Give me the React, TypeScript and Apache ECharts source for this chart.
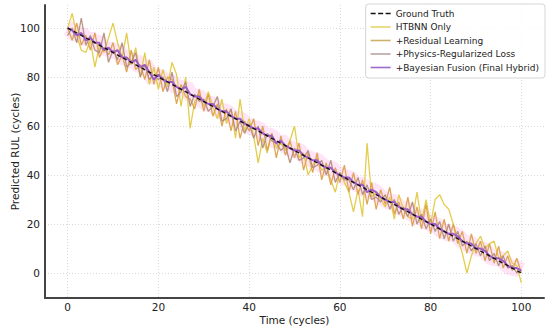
import React, { useEffect, useRef } from "react";
import * as echarts from "echarts";

const time: number[] = Array.from({ length: 101 }, (_, i) => i);

const groundTruth: number[][] = [
  [0, 100],
  [100, 0],
];

const htbnnOnly: number[] = [
  100, 106, 97, 91, 90, 95, 84, 93, 90, 96,
  102, 94, 88, 98, 85, 92, 80, 90, 77, 84,
  75, 83, 76, 86, 81, 68, 80, 59, 70, 73,
  68, 74, 68, 63, 71, 61, 67, 55, 71, 58,
  63, 56, 45, 55, 49, 57, 51, 53, 50, 54,
  60, 47, 49, 40, 44, 47, 42, 43, 38, 33,
  41, 37, 33, 25, 34, 23, 53, 31, 33, 30,
  27, 31, 22, 32, 26, 23, 22, 33, 21, 30,
  20, 30, 32, 28, 26, 20, 14, 8, 0, 7,
  12, 15, 10, 12, 13, 6, 7, 9, 4, 3, -4,
];

const residualLearning: number[] = [
  100, 95, 102, 93, 97, 91, 98, 88, 92, 89,
  94, 85, 89, 82, 91, 83, 85, 79, 87, 77,
  84, 74, 80, 79, 69, 77, 72, 71, 67, 75,
  66, 73, 64, 69, 60, 67, 58, 66, 55, 62,
  58, 63, 52, 60, 50, 57, 47, 56, 48, 54,
  47, 53, 42, 49, 41, 49, 38, 45, 36, 43,
  37, 44, 33, 41, 32, 38, 28, 37, 26, 34,
  28, 35, 24, 29, 22, 31, 19, 27, 18, 28,
  16, 25, 14, 22, 13, 20, 12, 17, 8, 16,
  8, 13, 5, 12, 4, 11, 2, 7, 1, 6, 0,
];

const physicsRegularized: number[] = [
  97, 100, 94, 104, 93, 97, 91, 90, 98, 86,
  91, 87, 94, 84, 86, 90, 80, 85, 79, 81,
  79, 80, 74, 82, 72, 74, 78, 68, 73, 70,
  71, 66, 68, 72, 62, 63, 67, 58, 62, 57,
  61, 55, 60, 51, 57, 54, 53, 50, 52, 45,
  51, 46, 47, 50, 43, 44, 46, 40, 46, 37,
  41, 38, 38, 34, 39, 32, 36, 30, 31, 29,
  32, 26, 30, 24, 27, 23, 29, 20, 24, 18,
  22, 17, 21, 14, 20, 13, 17, 11, 13, 9,
  12, 7, 11, 5, 8, 3, 7, 2, 3, 0, 1,
];

const bayesianFusion: number[] = [
  100, 99, 97, 98, 95, 96, 94, 94, 91, 92,
  90, 91, 88, 88, 86, 87, 84, 85, 82, 79,
  81, 79, 78, 78, 76, 75, 76, 73, 72, 72,
  70, 69, 69, 67, 66, 66, 64, 63, 63, 61,
  60, 59, 59, 57, 56, 56, 53, 54, 52, 51,
  50, 50, 48, 47, 46, 46, 44, 43, 43, 41,
  40, 39, 39, 37, 36, 36, 33, 34, 33, 31,
  30, 29, 29, 27, 26, 26, 24, 23, 23, 21,
  20, 20, 18, 17, 16, 16, 15, 13, 12, 12,
  10, 10, 9, 7, 6, 6, 5, 3, 2, 2, 1,
];

const xTicks = [0, 20, 40, 60, 80, 100];
const yTicks = [0, 20, 40, 60, 80, 100];

const pair = (ys: number[]) => ys.map((v, i) => [time[i], v]);

const solidIcon = "path://M0,0H20V1.6H0Z";
const dashedIcon = "path://M0,0H5V1.6H0Z M7.5,0H12.5V1.6H7.5Z M15,0H20V1.6H15Z";

export default function App() {
  const ref = useRef<HTMLDivElement>(null);
  useEffect(() => {
    if (!ref.current) return;
    const chart = echarts.init(ref.current, undefined, { renderer: "svg" });
    const font = "DejaVu Sans";
    chart.setOption({
      animation: false,
      backgroundColor: "#ffffff",
      textStyle: { fontFamily: font },
      grid: {
        left: 45,
        right: 6,
        top: 5,
        bottom: 32,
        containLabel: false,
        outerBoundsMode: "none",
      },
      legend: {
        orient: "vertical",
        right: 5,
        top: 4,
        data: [
          { name: "Ground Truth", icon: dashedIcon, itemStyle: { color: "#111" } },
          { name: "HTBNN Only", icon: solidIcon, itemStyle: { color: "#e6d66a" } },
          { name: "+Residual Learning", icon: solidIcon, itemStyle: { color: "#cdb36a" } },
          { name: "+Physics-Regularized Loss", icon: solidIcon, itemStyle: { color: "#b8a4a2" } },
          { name: "+Bayesian Fusion (Final Hybrid)", icon: solidIcon, itemStyle: { color: "#9a6ccc" } },
        ],
        itemWidth: 20,
        itemHeight: 10,
        itemGap: 4.5,
        padding: [5, 6, 6, 5],
        borderColor: "#d6d6d6",
        borderWidth: 1,
        borderRadius: 3,
        backgroundColor: "rgba(255,255,255,0.85)",
        textStyle: { fontFamily: font, fontSize: 9, color: "#222" },
      },
      xAxis: {
        type: "value",
        min: -5,
        max: 105,
        splitNumber: 5,
        name: "Time (cycles)",
        nameLocation: "middle",
        nameGap: 16,
        nameMoveOverlap: false,
        nameTextStyle: { fontFamily: font, fontSize: 10.5, color: "#222" },
        axisLine: { show: true, onZero: false, lineStyle: { color: "#444", width: 2 } },
        axisTick: { show: false },
        axisLabel: {
          margin: 3,
          fontFamily: font,
          fontSize: 10.5,
          color: "#222",
          formatter: (v: number) => (xTicks.includes(v) ? String(v) : ""),
        },
        splitLine: {
          show: true,
          showMinLine: false,
          showMaxLine: false,
          lineStyle: { color: "#d0d0d0", type: [1, 2], width: 0.8 },
        },
      },
      yAxis: {
        type: "value",
        min: -10.2,
        max: 109.4,
        splitNumber: 5,
        name: "Predicted RUL (cycles)",
        nameLocation: "middle",
        nameGap: 25,
        nameMoveOverlap: false,
        nameTextStyle: { fontFamily: font, fontSize: 10.5, color: "#222" },
        axisLine: { show: true, onZero: false, lineStyle: { color: "#444", width: 2 } },
        axisTick: { show: false },
        axisLabel: {
          margin: 5,
          fontFamily: font,
          fontSize: 10.5,
          color: "#222",
          formatter: (v: number) => (yTicks.includes(v) ? String(v) : ""),
        },
        splitLine: {
          show: true,
          showMinLine: false,
          showMaxLine: false,
          lineStyle: { color: "#d0d0d0", type: [1, 2], width: 0.8 },
        },
      },
      series: [
        {
          name: "uncertainty",
          type: "line",
          data: pair(bayesianFusion),
          symbol: "none",
          silent: true,
          z: 1,
          lineStyle: { color: "rgba(255,165,228,0.3)", width: 16 },
        },
        {
          name: "HTBNN Only",
          type: "line",
          data: pair(htbnnOnly),
          symbol: "none",
          z: 2,
          lineStyle: { color: "#e0c83c", width: 1.3, opacity: 0.9 },
          itemStyle: { color: "#e0c83c" },
        },
        {
          name: "+Residual Learning",
          type: "line",
          data: pair(residualLearning),
          symbol: "none",
          z: 3,
          lineStyle: { color: "#dc9c45", width: 1.3, opacity: 0.9 },
          itemStyle: { color: "#c9a85a" },
        },
        {
          name: "+Physics-Regularized Loss",
          type: "line",
          data: pair(physicsRegularized),
          symbol: "none",
          z: 4,
          lineStyle: { color: "#b08a7a", width: 1.3, opacity: 0.9 },
          itemStyle: { color: "#b49c98" },
        },
        {
          name: "+Bayesian Fusion (Final Hybrid)",
          type: "line",
          data: pair(bayesianFusion),
          symbol: "none",
          z: 5,
          lineStyle: { color: "#a05cc4", width: 2 },
          itemStyle: { color: "#9a66cc" },
        },
        {
          name: "Ground Truth",
          type: "line",
          data: groundTruth,
          symbol: "none",
          z: 6,
          lineStyle: { color: "#111", width: 1.4, type: [4, 3] },
          itemStyle: { color: "#111" },
        },
      ],
    });
    return () => chart.dispose();
  }, []);
  return (
    <div
      ref={ref}
      style={{ position: "fixed", left: 0, top: 0, width: 550, height: 330 }}
    />
  );
}
